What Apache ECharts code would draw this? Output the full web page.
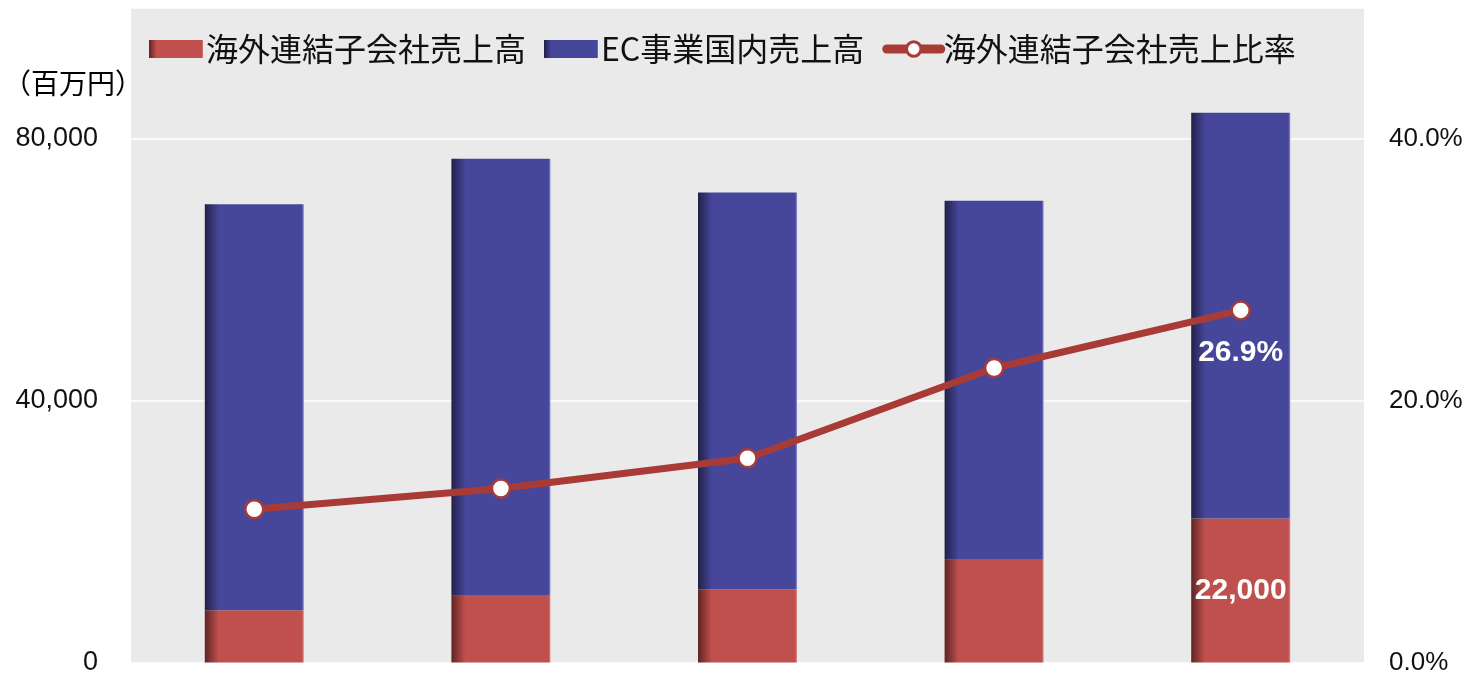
<!DOCTYPE html>
<html>
<head>
<meta charset="utf-8">
<script src="https://cdn.jsdelivr.net/npm/echarts@6/dist/echarts.min.js"></script>
<style>
html, body { margin: 0; padding: 0; background: #fff; }
#mychart { width: 1466px; height: 676px; }
</style>
</head>
<body>
<div id="mychart"></div>
<script>
// 年度（軸ラベルなし）
var categories = ['1', '2', '3', '4', '5'];
// 海外連結子会社売上高（百万円）
var overseasSales = [8000, 10200, 11200, 15700, 22000];
// EC事業国内売上高（百万円）
var domesticSales = [62000, 66750, 60600, 54850, 62000];
// 海外連結子会社売上比率（%）
var overseasRatio = [11.7, 13.3, 15.6, 22.5, 26.9];
var leftTicks = [0, 40000, 80000];
var rightTicks = [0, 20, 40];

var latin = '"Liberation Sans", Arial, "Noto Sans CJK JP", sans-serif';
var cjk = '"Noto Sans CJK JP", "Liberation Sans", sans-serif';

//棒の左端の影
function barGrad(dark, base, edge) {
    return new echarts.graphic.LinearGradient(0, 0, 1, 0, [
        { offset: 0, color: dark },
        { offset: 0.14, color: base },
        { offset: 0.98, color: base },
        { offset: 1, color: edge }
    ]);
}

var myChart = echarts.init(document.getElementById('mychart'));

var redData = overseasSales.map(function (v, i) {
    var item = { value: v };
    if (i === overseasSales.length - 1) {
        item.label = { show: true };
    }
    return item;
});
var ratioData = overseasRatio.map(function (v, i) {
    var item = { value: v };
    if (i === overseasRatio.length - 1) {
        item.label = { show: true };
    }
    return item;
});

myChart.setOption({
    animation: false,
    title: {
        text: '（百万円）',
        left: -2,
        top: 64,
        textStyle: { fontFamily: cjk, fontSize: 28, fontWeight: 'normal', color: '#000' }
    },
    legend: {
        left: 144,
        top: 28,
        itemWidth: 54,
        itemHeight: 18,
        itemGap: 18,
        textStyle: { fontFamily: cjk, fontSize: 32, color: '#111', padding: [0, 0, 0, -2] },
        data: [
            { name: '海外連結子会社売上高', icon: 'rect' },
            { name: 'EC事業国内売上高', icon: 'rect' },
            {
                name: '海外連結子会社売上比率',
                lineStyle: { width: 9, cap: 'round' },
                itemStyle: { borderWidth: 3 }
            }
        ]
    },
    grid: {
        left: 131,
        right: 102,
        top: 8,
        bottom: 11,
        show: true,
        backgroundColor: '#eaeaea',
        borderWidth: 0
    },
    xAxis: {
        type: 'category',
        data: categories,
        axisLine: { show: false },
        axisTick: { show: false },
        axisLabel: { show: false }
    },
    yAxis: [
        {
            type: 'value',
            min: 0,
            max: 100000,
            interval: 40000,
            axisLabel: {
                showMaxLabel: false,
                margin: 33,
                fontFamily: latin,
                fontSize: 27,
                color: '#111',
                formatter: function (v) {
                    return leftTicks.indexOf(v) >= 0 ? v.toLocaleString('en-US') : '';
                }
            },
            splitLine: { lineStyle: { color: '#ffffff', width: 1.5 } },
            axisLine: { show: false },
            axisTick: { show: false }
        },
        {
            type: 'value',
            min: 0,
            max: 50,
            interval: 20,
            axisLabel: {
                showMaxLabel: false,
                margin: 25,
                fontFamily: latin,
                fontSize: 26,
                color: '#111',
                formatter: function (v) {
                    return rightTicks.indexOf(v) >= 0 ? v.toFixed(1) + '%' : '';
                }
            },
            splitLine: { show: false },
            axisLine: { show: false },
            axisTick: { show: false }
        }
    ],
    series: [
        {
            name: '海外連結子会社売上高',
            type: 'bar',
            stack: 'sales',
            barWidth: 99,
            data: redData,
            itemStyle: { color: barGrad('#5e2423', '#c0504d', '#d88a88') },
            label: {
                show: false,
                position: 'inside',
                color: '#fff',
                fontFamily: latin,
                fontSize: 30,
                fontWeight: 'bold',
                formatter: function (p) { return p.value.toLocaleString('en-US'); }
            }
        },
        {
            name: 'EC事業国内売上高',
            type: 'bar',
            stack: 'sales',
            barWidth: 99,
            data: domesticSales,
            itemStyle: { color: barGrad('#222048', '#46469a', '#8a8ad0') }
        },
        {
            name: '海外連結子会社売上比率',
            type: 'line',
            yAxisIndex: 1,
            data: ratioData,
            symbol: 'circle',
            symbolSize: 18,
            lineStyle: { color: '#a93b37', width: 7 },
            itemStyle: { color: '#ffffff', borderColor: '#a93b37', borderWidth: 2.5 },
            label: {
                show: false,
                position: 'bottom',
                distance: 17,
                color: '#fff',
                fontFamily: latin,
                fontSize: 30,
                fontWeight: 'bold',
                formatter: function (p) { return p.value.toFixed(1) + '%'; }
            },
            z: 5
        }
    ]
});
</script>
</body>
</html>
